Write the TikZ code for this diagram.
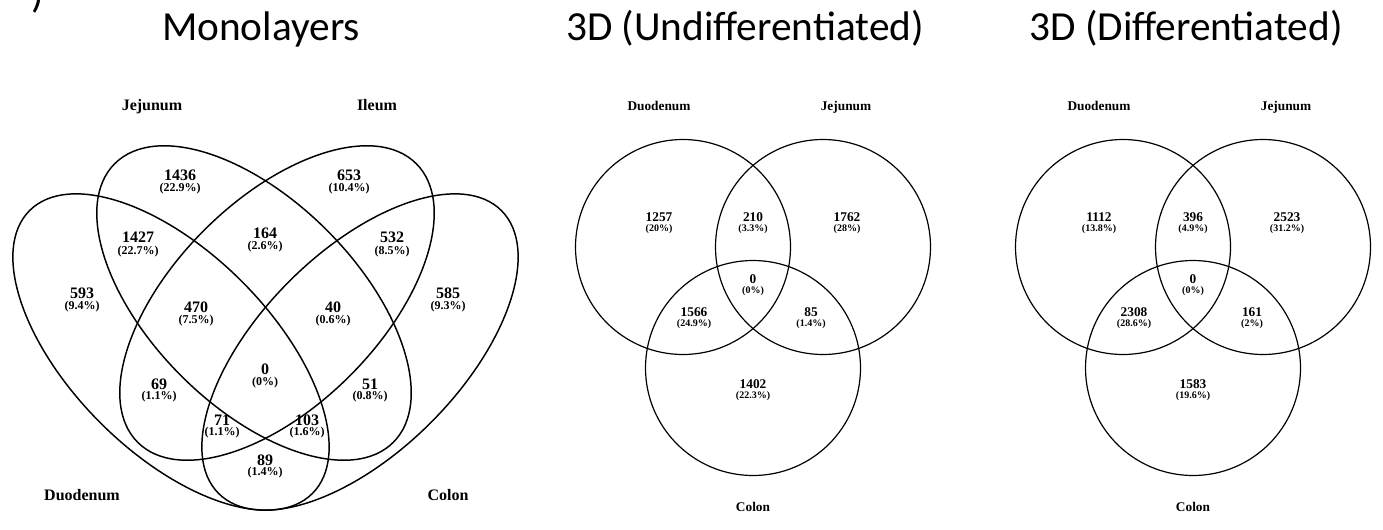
\documentclass[tikz,border=0pt]{standalone}
\usepackage{fontspec}
\setmainfont{Liberation Serif}
\newfontfamily\titlefont{Carlito}

\tikzset{every picture/.style={line width=0.75pt}}
\tikzset{
  paneltitle/.style={font=\titlefont\fontsize{31}{36}\selectfont, anchor=base, inner sep=0pt},
  catA/.style={font=\bfseries\fontsize{12}{14}\selectfont, anchor=base, inner sep=0pt},
  numA/.style={font=\bfseries\fontsize{12}{14}\selectfont, inner sep=0pt},
  pctA/.style={font=\bfseries\fontsize{9}{11}\selectfont, inner sep=0pt},
  catB/.style={font=\bfseries\fontsize{10}{12}\selectfont, anchor=base, inner sep=0pt},
  numB/.style={font=\bfseries\fontsize{10}{12}\selectfont, inner sep=0pt},
  pctB/.style={font=\bfseries\fontsize{7.5}{9}\selectfont, inner sep=0pt},
  setline/.style={line width=1.1pt},
  setcircle/.style={line width=0.9pt}
}

\begin{document}
\begin{tikzpicture}[x=0.75pt,y=0.75pt,yscale=-1,xscale=1]

\useasboundingbox (0,0) rectangle (1383,529);

% cut panel tag
\begin{scope}
\clip (0,0) rectangle (1383,529);
\node [paneltitle, anchor=base west] (tag) at (31,7.5) {)};
\end{scope}

% titles
\node [paneltitle] (tMono) at (261,40.5) {Monolayers};
\node [paneltitle] (tUndiff) at (745,40.5) {3D (Undifferentiated)};
\node [paneltitle] (tDiff) at (1186,40.5) {3D (Differentiated)};

% monolayers, four ellipses
\draw [setline, rotate around={45:(171,352)}] (171,352) ellipse [x radius=200, y radius=100];
\draw [setline, rotate around={45:(254,303)}] (254,303) ellipse [x radius=197, y radius=103];
\draw [setline, rotate around={-45:(277,303)}] (277,303) ellipse [x radius=197, y radius=103];
\draw [setline, rotate around={-45:(360,352)}] (360,352) ellipse [x radius=200, y radius=100];

\node [catA] (mJej) at (152,110) {Jejunum};
\node [catA] (mIle) at (377,110) {Ileum};
\node [catA] (mDuo) at (82,500) {Duodenum};
\node [catA] (mCol) at (448,500) {Colon};

\node [numA] (m1436) at (180,175) {1436};
\node [pctA] (p1436) at (180,189) {(22.9\%)};
\node [numA] (m653) at (349,175) {653};
\node [pctA] (p653) at (349,189) {(10.4\%)};
\node [numA] (m1427) at (138,237) {1427};
\node [pctA] (p1427) at (138,252) {(22.7\%)};
\node [numA] (m164) at (265,233) {164};
\node [pctA] (p164) at (265,247) {(2.6\%)};
\node [numA] (m532) at (392,237) {532};
\node [pctA] (p532) at (392,252) {(8.5\%)};
\node [numA] (m593) at (82,293) {593};
\node [pctA] (p593) at (82,307) {(9.4\%)};
\node [numA] (m470) at (196,307) {470};
\node [pctA] (p470) at (196,321) {(7.5\%)};
\node [numA] (m40) at (333,307) {40};
\node [pctA] (p40) at (333,321) {(0.6\%)};
\node [numA] (m585) at (448,293) {585};
\node [pctA] (p585) at (448,307) {(9.3\%)};
\node [numA] (m0) at (265,369) {0};
\node [pctA] (p0) at (265,383) {(0\%)};
\node [numA] (m69) at (159,384) {69};
\node [pctA] (p69) at (159,397) {(1.1\%)};
\node [numA] (m51) at (370,384) {51};
\node [pctA] (p51) at (370,397) {(0.8\%)};
\node [numA] (m71) at (222,420) {71};
\node [pctA] (p71) at (222,433) {(1.1\%)};
\node [numA] (m103) at (307,420) {103};
\node [pctA] (p103) at (307,433) {(1.6\%)};
\node [numA] (m89) at (265,460) {89};
\node [pctA] (p89) at (265,473) {(1.4\%)};

% 3D undifferentiated
\draw [setcircle] (683,247) circle [radius=107.5];
\draw [setcircle] (823,247) circle [radius=107.5];
\draw [setcircle] (753,368) circle [radius=107.5];

\node [catB] (uDuo) at (659,110) {Duodenum};
\node [catB] (uJej) at (846,110) {Jejunum};
\node [catB] (uCol) at (753,511) {Colon};

\node [numB] (u1257) at (659,217) {1257};
\node [pctB] (q1257) at (659,229) {(20\%)};
\node [numB] (u210) at (753,217) {210};
\node [pctB] (q210) at (753,229) {(3.3\%)};
\node [numB] (u1762) at (847,217) {1762};
\node [pctB] (q1762) at (847,229) {(28\%)};
\node [numB] (u0) at (753,279) {0};
\node [pctB] (q0) at (753,291) {(0\%)};
\node [numB] (u1566) at (694,312) {1566};
\node [pctB] (q1566) at (694,324) {(24.9\%)};
\node [numB] (u85) at (811,312) {85};
\node [pctB] (q85) at (811,324) {(1.4\%)};
\node [numB] (u1402) at (753,384) {1402};
\node [pctB] (q1402) at (753,396) {(22.3\%)};

% 3D differentiated
\draw [setcircle] (1123,247) circle [radius=107.5];
\draw [setcircle] (1263,247) circle [radius=107.5];
\draw [setcircle] (1193,368) circle [radius=107.5];

\node [catB] (dDuo) at (1099,110) {Duodenum};
\node [catB] (dJej) at (1286,110) {Jejunum};
\node [catB] (dCol) at (1193,511) {Colon};

\node [numB] (d1112) at (1099,217) {1112};
\node [pctB] (r1112) at (1099,229) {(13.8\%)};
\node [numB] (d396) at (1193,217) {396};
\node [pctB] (r396) at (1193,229) {(4.9\%)};
\node [numB] (d2523) at (1287,217) {2523};
\node [pctB] (r2523) at (1287,229) {(31.2\%)};
\node [numB] (d0) at (1193,279) {0};
\node [pctB] (r0) at (1193,291) {(0\%)};
\node [numB] (d2308) at (1134,312) {2308};
\node [pctB] (r2308) at (1134,324) {(28.6\%)};
\node [numB] (d161) at (1252,312) {161};
\node [pctB] (r161) at (1252,324) {(2\%)};
\node [numB] (d1583) at (1193,384) {1583};
\node [pctB] (r1583) at (1193,396) {(19.6\%)};

\end{tikzpicture}
\end{document}
